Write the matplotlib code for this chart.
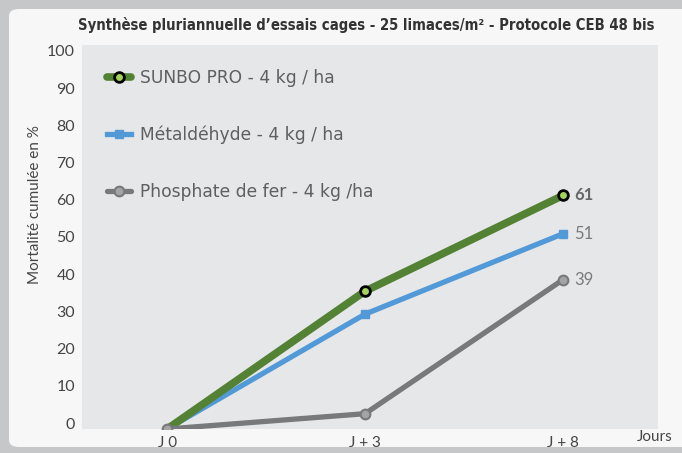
import matplotlib
matplotlib.use("Agg")
import matplotlib.pyplot as plt
from matplotlib.patches import FancyBboxPatch

categories = ["J 0", "J + 3", "J + 8"]
sunbo = [0, 36, 61]
metal = [0, 30, 51]
phosphate = [0, 4, 39]
series_labels = ["SUNBO PRO - 4 kg / ha", "Métaldéhyde - 4 kg / ha", "Phosphate de fer - 4 kg /ha"]
yticks = [0, 10, 20, 30, 40, 50, 60, 70, 80, 90, 100]

GREEN, LGREEN = "#548235", "#a3d15a"
BLUE = "#5299d8"
GREY, LGREY = "#77797b", "#a3a4a6"
TXT = "#454545"
FONT = ["Lato", "DejaVu Sans"]

plt.rcParams.update({"font.family": FONT, "font.size": 11})

fig = plt.figure(figsize=(6.82, 4.53), dpi=100)
fig.patch.set_facecolor("#c6c7c9")
card = FancyBboxPatch((9 / 682, 6 / 453), 1.2, 1 - 15 / 453,
                      boxstyle="round,pad=0,rounding_size=0.015",
                      transform=fig.transFigure, facecolor="#f7f7f7",
                      edgecolor="none", zorder=-5)
fig.patches.append(card)

ax = fig.add_axes([82 / 682, 24 / 453, 576 / 682, 384 / 453])
ax.set_facecolor("#e6e7e9")
for sp in ax.spines.values():
    sp.set_visible(False)

x = range(len(categories))
ax.plot(x, sunbo, color=GREEN, lw=5.5, marker="o", ms=7, mfc=LGREEN, mec="black",
        mew=2, markevery=[1, 2], label=series_labels[0], zorder=4, solid_capstyle="round")
ax.plot(x, metal, color=BLUE, lw=3.8, marker="s", ms=5.5, mfc=BLUE, mec=BLUE,
        markevery=[1, 2], label=series_labels[1], zorder=3)
ax.plot(x, phosphate, color=GREY, lw=3.8, marker="o", ms=7, mfc=LGREY, mec=GREY,
        mew=1.5, label=series_labels[2], zorder=5, solid_capstyle="round")

ax.set_xlim(-0.43, 2.48)
ax.set_ylim(0, 100.3)
ax.set_xticks(list(x))
ax.set_xticklabels(categories, color=TXT, fontsize=11)
ax.tick_params(axis="x", length=0, pad=5)
ax.set_yticks([])

# tick labels of the y axis sit on a slightly different scale than the data
ay = ax.twinx()
ay.set_ylim(-1.6, 101.6)
ay.yaxis.tick_left()
ay.set_yticks(yticks)
ay.set_yticklabels([str(v) for v in yticks], color=TXT, fontsize=11.5)
ay.tick_params(axis="y", length=0, pad=5)
for sp in ay.spines.values():
    sp.set_visible(False)

for vals, w, c in [(sunbo, "bold", "#666666"), (metal, "normal", "#7a7a7a"),
                   (phosphate, "normal", "#7a7a7a")]:
    ax.annotate(str(vals[-1]), (2, vals[-1]), xytext=(8, 0), textcoords="offset points",
                ha="left", va="center", fontsize=12, fontweight=w, color=c)

leg = ax.legend(loc="upper left", bbox_to_anchor=(0.016, 0.978), frameon=False,
                handlelength=1.45, handletextpad=0.5, labelspacing=2.28,
                prop={"family": "DejaVu Sans", "size": 12.3},
                labelcolor="#5f5f5f")

fig.text(35 / 682, 1 - 205 / 453, "Mortalité cumulée en %", rotation=90,
         ha="center", va="center", fontsize=11, color=TXT)
fig.text(655 / 682, 1 - 437 / 453, "Jours", ha="center", va="center",
         fontsize=11, color=TXT)
fig.text(366 / 682, 1 - 25 / 453,
         "Synthèse pluriannuelle d\u2019essais cages - 25 limaces/m² - Protocole CEB 48 bis",
         ha="center", va="center", fontsize=10.6, fontweight="bold", color="#333333",
         family="DejaVu Sans", fontstretch="condensed")

fig.savefig("out.png", dpi=100, facecolor=fig.get_facecolor())
